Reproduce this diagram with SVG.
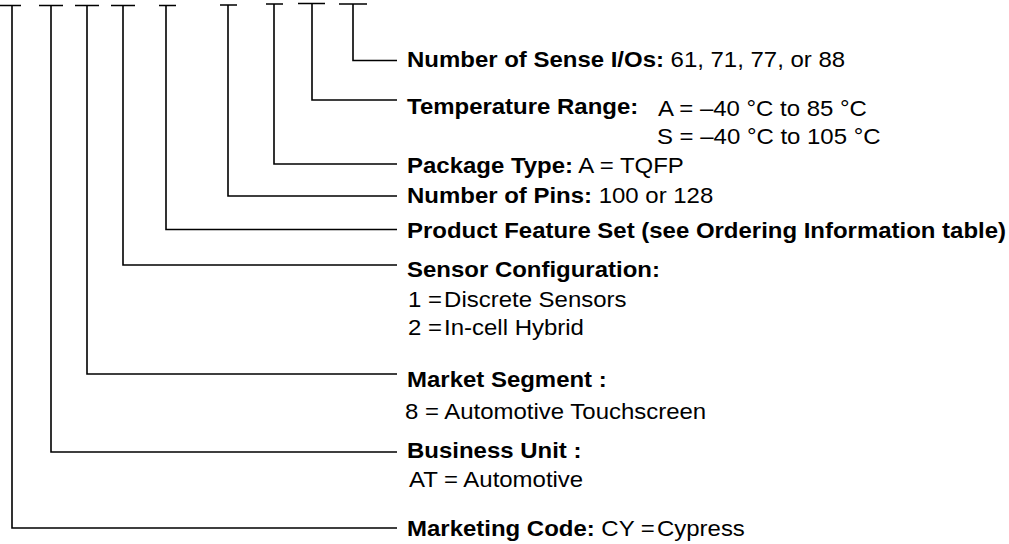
<svg xmlns="http://www.w3.org/2000/svg" width="1009" height="544" viewBox="0 0 1009 544">
<style>
.ln{fill:none;stroke:#000;stroke-width:1.6;stroke-linecap:butt}
text{font-family:"Liberation Sans",Arial,sans-serif;font-size:22.5px;fill:#000}
.b{font-weight:bold}
</style>
<rect width="1009" height="544" fill="#fff"/>
<g id="connectors">
<path class="ln" d="M0,5.5H21M12,5.5V528H397"/>
<path class="ln" d="M39,5.5H63M51,5.5V452H397"/>
<path class="ln" d="M75,5.5H99M87,5.5V374H397"/>
<path class="ln" d="M111,5.5H135M123,5.5V265H397"/>
<path class="ln" d="M159,5.5H176M166,5.5V229.5H397"/>
<path class="ln" d="M220,5H237M228,5V196H397"/>
<path class="ln" d="M266,4H283M274,4V164H397"/>
<path class="ln" d="M298,3.5H325M312,3.5V100H397"/>
<path class="ln" d="M339,4H367M353,4V60.5H397"/>
</g>
<g transform="matrix(1.065 0 0 1 0 0)">
<g id="sense-ios"><text x="382.2" y="67"><tspan class="b">Number of Sense I/Os:</tspan> 61, 71, 77, or 88</text></g>
<g id="temperature"><text class="b" x="382.2" y="114">Temperature Range:</text>
<text x="617.8" y="116">A = –40 °C to 85 °C</text>
<text x="616.9" y="144">S = –40 °C to 105 °C</text></g>
<g id="package"><text x="382.2" y="173"><tspan class="b">Package Type:</tspan> A = TQFP</text></g>
<g id="pins"><text x="382.2" y="203"><tspan class="b">Number of Pins:</tspan> 100 or 128</text></g>
<g id="feature-set"><text class="b" x="382.2" y="238">Product Feature Set (see Ordering Information table)</text></g>
<g id="sensor-config"><text class="b" x="382.2" y="277">Sensor Configuration:</text>
<text x="383.1" y="307">1 =<tspan dx="2">Discrete Sensors</tspan></text>
<text x="383.1" y="335">2 =<tspan dx="2">In-cell Hybrid</tspan></text></g>
<g id="market-segment"><text class="b" x="382.2" y="387">Market Segment :</text>
<text x="380.3" y="419">8 = Automotive Touchscreen</text></g>
<g id="business-unit"><text class="b" x="382.2" y="458">Business Unit :</text>
<text x="384" y="487">AT = Automotive</text></g>
<g id="marketing-code"><text x="382.2" y="536"><tspan class="b">Marketing Code:</tspan> CY =<tspan dx="2">Cypress</tspan></text></g>
</g>
</svg>
